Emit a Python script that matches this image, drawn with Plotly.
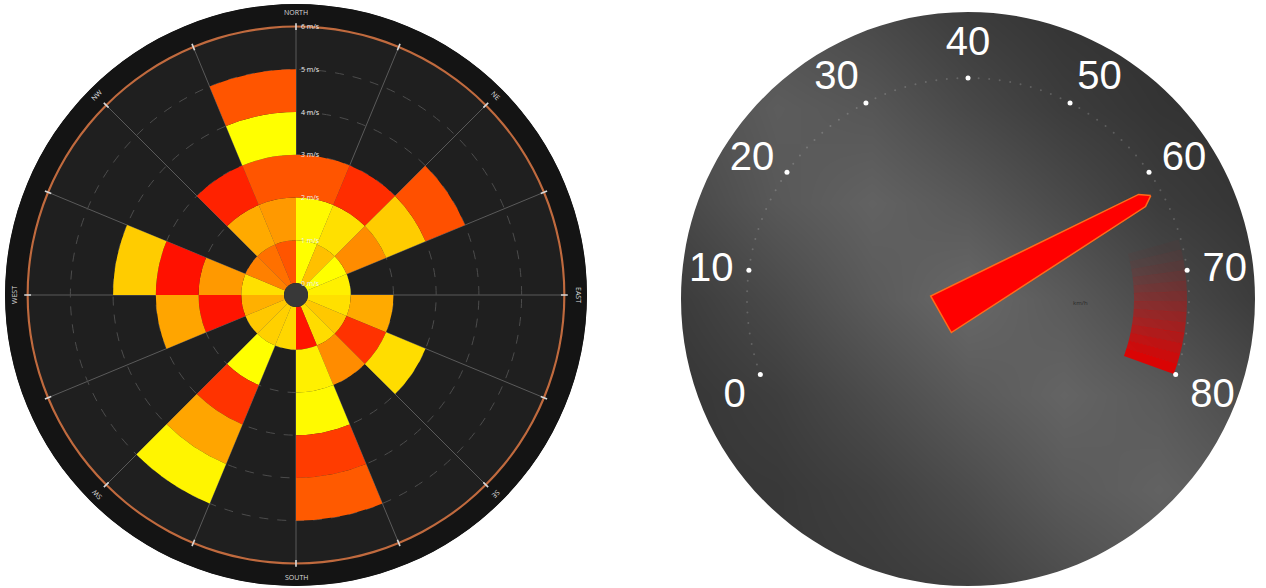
import math
import plotly.graph_objects as go

W, H = 1266, 588

# ---------------- wind rose data ----------------
# 16 sectors clockwise from north, each sector spans [start, start + 22.5]
sector_names = ['N', 'NNE', 'NE', 'ENE', 'E', 'ESE', 'SE', 'SSE',
                'S', 'SSW', 'SW', 'WSW', 'W', 'WNW', 'NW', 'NNW']
sector_start = [0, 22.5, 45, 67.5, 90, 112.5, 135, 157.5,
                180, 202.5, 225, 247.5, 270, 292.5, 315, 337.5]
# heat of every 1 m/s band (inner -> outer), 0 = red ... 255 = yellow
band_heat = {
    'N':   [255, 250, 85],
    'NNE': [192, 224, 45],
    'NE':  [255, 140, 204, 80],
    'ENE': [240],
    'E':   [224, 170],
    'ESE': [200, 50, 221],
    'SE':  [220, 140],
    'SSE': [20, 240, 250, 60, 90],
    'S':   [215],
    'SSW': [208, 255, 51, 165, 245],
    'SW':  [200],
    'WSW': [176, 20, 165],
    'W':   [224, 153, 17, 204],
    'WNW': [128],
    'NW':  [112, 170, 34],
    'NNW': [85, 153, 85, 255, 85],
}
speed_ticks = [0, 1, 2, 3, 4, 5, 6]
compass_labels = ['NORTH', 'NE', 'EAST', 'SE', 'SOUTH', 'SW', 'WEST', 'NW']
compass_deg = [0, 45, 90, 135, 180, 225, 270, 315]
compass_rot = [0, 45, 90, 135, 0, -135, -90, -45]

# ---------------- gauge data ----------------
gauge_ticks = [0, 10, 20, 30, 40, 50, 60, 70, 80]
gauge_value = 62
gauge_band = [67, 80]
gauge_unit = 'km/h'
# background shading of the dial (gray level), rows bottom -> top
gauge_shade = [
    [56, 56, 58, 64, 76, 88, 92],
    [54, 56, 64, 76, 90, 98, 88],
    [54, 62, 76, 90, 100, 90, 74],
    [60, 74, 90, 104, 90, 74, 60],
    [72, 88, 98, 88, 74, 60, 52],
    [80, 92, 86, 72, 60, 52, 48],
    [84, 82, 72, 60, 52, 48, 44],
]
shade_pos = [-287, -191, -96, 0, 96, 191, 287]


def px_x(x):
    return x / W


def px_y(y):
    return 1 - y / H


fig = go.Figure()

# ---- left: wind rose ----
CX1, CY1, R1 = 296, 295, 291
HOLE = 12                       # px
RMAX = 6.53                     # m/s at the outer edge
PX_PER_MS = (R1 - HOLE) / RMAX

band_count = max(len(v) for v in band_heat.values())
for level in range(band_count):
    th, col = [], []
    for name, start in zip(sector_names, sector_start):
        heats = band_heat[name]
        if level < len(heats):
            th.append(start + 11.25)
            col.append(heats[level])
    fig.add_trace(go.Barpolar(
        r=[1] * len(th), base=[level] * len(th), theta=th, width=[22.5] * len(th),
        marker=dict(color=col, colorscale=[[0, 'rgb(255,0,0)'], [1, 'rgb(255,255,0)']],
                    cmin=0, cmax=255, line=dict(width=0)),
        hoverinfo='skip', showlegend=False, subplot='polar'))

# outer dark band, orange ring and ring ticks
fig.add_trace(go.Barpolar(r=[RMAX - 6], base=[6], theta=[0], width=[360],
                          marker=dict(color='#141414', line=dict(width=0)),
                          hoverinfo='skip', showlegend=False, subplot='polar'))
fig.add_trace(go.Barpolar(r=[0.05], base=[5.975], theta=[0], width=[360],
                          marker=dict(color='#c06a3e', line=dict(width=0)),
                          hoverinfo='skip', showlegend=False, subplot='polar'))
fig.add_trace(go.Barpolar(r=[0.16] * 16, base=[5.92] * 16, theta=sector_start,
                          width=[0.35] * 16,
                          marker=dict(color='#d8d8d8', line=dict(width=0)),
                          hoverinfo='skip', showlegend=False, subplot='polar'))

# ---- right: gauge ----
CX2, CY2, RBG = 968, 299, 287
R2 = 236
DOT_R = 221 / R2
DEG = 220 / (gauge_ticks[-1] - gauge_ticks[0])

fig.add_trace(go.Heatmap(
    z=gauge_shade, x=shade_pos, y=shade_pos,
    colorscale=[[0, 'rgb(40,40,40)'], [1, 'rgb(110,110,110)']], zmin=40, zmax=110,
    zsmooth='best', showscale=False, hoverinfo='skip', xaxis='x', yaxis='y'))

# red warning band, fading in towards the top of the scale
band_vals = list(range(gauge_band[0], gauge_band[1]))
n_band = len(band_vals)
fig.add_trace(go.Barpolar(
    r=[(219 - 166) / R2] * n_band, base=[166 / R2] * n_band,
    theta=[(v + 0.5) * DEG for v in band_vals],
    width=[DEG * 1.03] * n_band,
    marker=dict(color=[f'rgba(225,0,0,{0.03 + 0.92 * (i / (n_band - 1)) ** 1.3:.2f})'
                       for i in range(n_band)],
                line=dict(width=0)),
    hoverinfo='skip', showlegend=False, subplot='polar2'))

minor = list(range(gauge_ticks[0], gauge_ticks[-1] + 1))
fig.add_trace(go.Scatterpolar(
    r=[DOT_R] * len(minor), theta=[v * DEG for v in minor], mode='markers',
    marker=dict(size=2, color='rgba(255,255,255,0.18)'),
    hoverinfo='skip', showlegend=False, subplot='polar2'))
fig.add_trace(go.Scatterpolar(
    r=[DOT_R] * len(gauge_ticks), theta=[v * DEG for v in gauge_ticks], mode='markers',
    marker=dict(size=5, color='white'),
    hoverinfo='skip', showlegend=False, subplot='polar2'))

# needle (along, across) in px relative to the hub
needle_shape = [(210, 0), (200, 7), (-31, 21), (-31, -21), (200, -7), (210, 0)]
nt = gauge_value * DEG
fig.add_trace(go.Scatterpolar(
    r=[math.hypot(d, w) / R2 for d, w in needle_shape],
    theta=[nt + math.degrees(math.atan2(w, d)) for d, w in needle_shape],
    mode='lines', fill='toself', fillcolor='#ff0000',
    line=dict(color='#ff6a1a', width=1.5),
    hoverinfo='skip', showlegend=False, subplot='polar2'))

# circle mask around the dial shading
k = 0.5523 * RBG
P = 300
mask = (f'M {-P},{-P} L {P},{-P} L {P},{P} L {-P},{P} Z '
        f'M {-RBG},0 C {-RBG},{k} {-k},{RBG} 0,{RBG} '
        f'C {k},{RBG} {RBG},{k} {RBG},0 '
        f'C {RBG},{-k} {k},{-RBG} 0,{-RBG} '
        f'C {-k},{-RBG} {-RBG},{-k} {-RBG},0 Z')

annotations = []
for lab, deg, rot in zip(compass_labels, compass_deg, compass_rot):
    a = math.radians(deg)
    annotations.append(dict(
        x=px_x(CX1 + 282 * math.sin(a)), y=px_y(CY1 - 282 * math.cos(a)),
        xref='paper', yref='paper', text=lab, showarrow=False, textangle=rot,
        font=dict(size=7, color='#dddddd', family='Open Sans'),
        xanchor='center', yanchor='middle'))
# speed labels along the north spoke
for v in speed_ticks:
    annotations.append(dict(
        x=px_x(CX1 + 3), y=px_y(CY1 - HOLE - v * PX_PER_MS),
        xref='paper', yref='paper', text=f'{v} m/s', showarrow=False,
        font=dict(size=7, color='#eeeeee', family='Open Sans'),
        xanchor='left', yanchor='middle'))
annotations.append(dict(x=px_x(1090), y=px_y(303), xref='paper', yref='paper',
                        text=gauge_unit, showarrow=False,
                        font=dict(size=6, color='#2a2a2a')))

fig.update_layout(
    width=W, height=H, margin=dict(l=0, r=0, t=0, b=0),
    paper_bgcolor='white', plot_bgcolor='white',
    polar=dict(
        domain=dict(x=[px_x(CX1 - R1), px_x(CX1 + R1)], y=[px_y(CY1 + R1), px_y(CY1 - R1)]),
        hole=HOLE / R1, bgcolor='#1f1f1f', barmode='overlay',
        radialaxis=dict(range=[0, RMAX], tickvals=speed_ticks, showticklabels=False,
                        showline=False, ticks='',
                        gridcolor='#4c4c4c', griddash='dash', gridwidth=1),
        angularaxis=dict(rotation=90, direction='clockwise', tickvals=sector_start,
                         showticklabels=False, ticks='', showline=False,
                         gridcolor='#5a5a5a', gridwidth=1)),
    polar2=dict(
        domain=dict(x=[px_x(CX2 - R2), px_x(CX2 + R2)], y=[px_y(CY2 + R2), px_y(CY2 - R2)]),
        bgcolor='rgba(0,0,0,0)', barmode='overlay',
        radialaxis=dict(range=[0, 1], visible=False),
        angularaxis=dict(rotation=200, direction='clockwise',
                         tickvals=[v * DEG for v in gauge_ticks],
                         ticktext=[str(v) for v in gauge_ticks],
                         ticks='', showline=False, showgrid=False,
                         tickfont=dict(size=40, color='white', family='Liberation Sans'))),
    xaxis=dict(domain=[px_x(CX2 - RBG), px_x(CX2 + RBG)], range=[-RBG, RBG],
               visible=False, fixedrange=True),
    yaxis=dict(domain=[px_y(CY2 + RBG), px_y(CY2 - RBG)], range=[-RBG, RBG],
               visible=False, fixedrange=True),
    shapes=[
        dict(type='path', xref='x', yref='y', path=mask, fillcolor='white',
             line=dict(width=0), layer='above', fillrule='evenodd'),
        dict(type='circle', xref='paper', yref='paper',
             x0=px_x(CX1 - 13), x1=px_x(CX1 + 13), y0=px_y(CY1 + 13), y1=px_y(CY1 - 13),
             fillcolor='#383838', line=dict(width=0), layer='below'),
    ],
    annotations=annotations,
)

# the page body keeps its default 8px margin otherwise
fig.write_html('out.html', config={'displayModeBar': False},
               post_script="document.body.style.margin = '0px';")
